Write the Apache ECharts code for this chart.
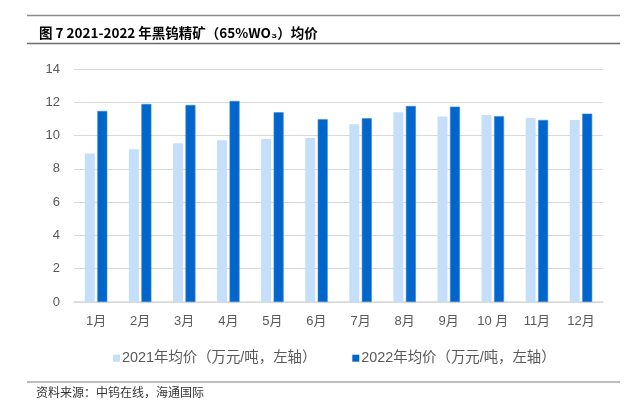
<!DOCTYPE html>
<html>
<head>
<meta charset="utf-8">
<script src="https://cdn.jsdelivr.net/npm/echarts@6/dist/echarts.min.js"></script>
<style>
html,body{margin:0;padding:0;background:#fff;}
#c{width:627px;height:413px;}
</style>
</head>
<body>
<div id="c"></div>
<script>
var categories = ['1月','2月','3月','4月','5月','6月','7月','8月','9月','10 月','11月','12月'];
var values2021 = [8.92, 9.18, 9.54, 9.72, 9.8, 9.86, 10.68, 11.4, 11.14, 11.24, 11.06, 10.94];
var values2022 = [11.48, 11.9, 11.84, 12.08, 11.4, 10.98, 11.04, 11.78, 11.74, 11.16, 10.94, 11.32];
var seriesNames = ['2021年均价（万元/吨，左轴）', '2022年均价（万元/吨，左轴）'];
var yTicks = [0, 2, 4, 6, 8, 10, 12, 14];

var FONT = "'Liberation Sans', 'Noto Sans CJK SC', sans-serif";
var chart = echarts.init(document.getElementById('c'), null, {renderer: 'canvas'});
chart.setOption({
  animation: false,
  backgroundColor: '#fff',
  title: {
    text: '图 7 2021-2022 年黑钨精矿（65%WO₃）均价',
    left: 34, top: 21,
    textStyle: {fontFamily: "'Noto Sans CJK SC', sans-serif", fontSize: 13.5, fontWeight: 'bold', color: '#000'}
  },
  graphic: [
    {type: 'line', shape: {x1: 27, y1: 15.5, x2: 620, y2: 15.5}, style: {stroke: '#8c8c8c', lineWidth: 1.5}},
    {type: 'line', shape: {x1: 27, y1: 43.5, x2: 620, y2: 43.5}, style: {stroke: '#6e6e6e', lineWidth: 1.5}},
    {type: 'line', shape: {x1: 27, y1: 382, x2: 620, y2: 382}, style: {stroke: '#7a7a7a', lineWidth: 1.2}},
    {type: 'text', left: 36, top: 386, style: {text: '资料来源：中钨在线，海通国际', font: "12px 'Noto Sans CJK SC', sans-serif", fill: '#333'}}
  ],
  legend: {
    left: 108, top: 346,
    itemWidth: 7, itemHeight: 7, itemGap: 36,
    icon: 'rect',
    itemStyle: {borderWidth: 0},
    textStyle: {fontFamily: FONT, fontSize: 14.4, color: '#595959', padding: [0,0,0,-3]},
    data: seriesNames
  },
  grid: {left: 74, right: 24, top: 69, bottom: 111, containLabel: false},
  xAxis: {
    type: 'category',
    data: categories,
    axisLine: {lineStyle: {color: '#d9d9d9', width: 1.5}},
    axisTick: {show: false},
    axisLabel: {fontFamily: FONT, fontSize: 13, color: '#595959', margin: 13}
  },
  yAxis: {
    type: 'value',
    min: 0, max: 14, interval: 2,
    axisLine: {show: false},
    axisTick: {show: false},
    splitLine: {lineStyle: {color: '#d9d9d9', width: 1.2}},
    axisLabel: {fontFamily: FONT, fontSize: 13, color: '#595959', margin: 14,
      formatter: function (v) { return yTicks.indexOf(v) >= 0 ? String(v) : ''; }}
  },
  series: [
    {name: seriesNames[0], type: 'bar', data: values2021, barWidth: 10, barGap: '25%',
      itemStyle: {color: '#c5dffb'}},
    {name: seriesNames[1], type: 'bar', data: values2022, barWidth: 10,
      itemStyle: {color: '#0066cc', borderColor: '#3d8ad6', borderWidth: 0.6}}
  ]
});
</script>
</body>
</html>
